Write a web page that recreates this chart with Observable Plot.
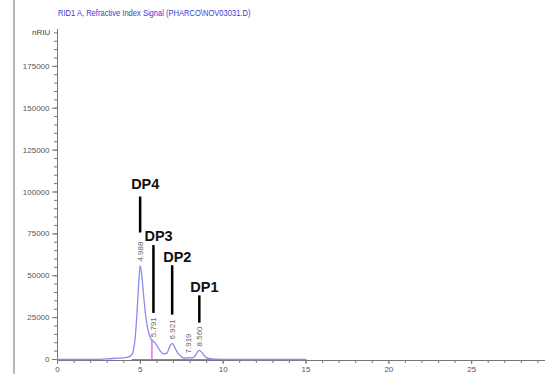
<!DOCTYPE html>
<html><head><meta charset="utf-8">
<script src="https://cdn.jsdelivr.net/npm/d3@7"></script>
<script src="https://cdn.jsdelivr.net/npm/@observablehq/plot@0.6"></script>
<style>
html,body{margin:0;padding:0;background:#fff;overflow:hidden;width:545px;height:374px;}
#wrap{position:relative;width:545px;height:374px;overflow:hidden;}
#title{position:absolute;left:58px;top:8px;font:9px "Liberation Sans",Arial,sans-serif;color:#3a3ad8;white-space:nowrap;transform:scaleX(0.84);transform-origin:left top;}
#unit{position:absolute;left:32px;top:28px;font:8px "Liberation Sans",Arial,sans-serif;color:#444;}
#border{position:absolute;left:13px;top:0;width:2px;height:374px;background:#b8b8b8;}
#chart{position:absolute;left:0;top:0;width:560px;}
#chart svg{max-width:none !important;}
</style></head>
<body><div id="wrap"><div id="border"></div><div id="chart"></div>
<div id="title">RID1 A, Refractive Index Signal (PHARCO\NOV03031.D)</div>
<div id="unit">nRIU</div></div>
<script>
// Chromatogram trace (time in min, signal in nRIU)
const times = [0, 1, 2, 3, 3.5, 4.0, 4.3, 4.5, 4.6, 4.7, 4.8, 4.9, 4.988, 5.1, 5.2, 5.3, 5.4, 5.5, 5.6, 5.7, 5.8, 5.9, 6.0, 6.2, 6.4, 6.6, 6.7, 6.8, 6.921, 7.0, 7.1, 7.2, 7.4, 7.6, 7.8, 7.919, 8.05, 8.2, 8.35, 8.45, 8.56, 8.7, 8.85, 9.0, 9.2, 9.5, 10, 11, 12, 13, 14, 15];
const signal = [0, 0, 100, 400, 700, 1000, 1500, 3000, 6500, 14000, 28000, 45000, 56000, 49000, 38000, 28000, 21000, 16000, 13000, 11500, 10800, 9800, 8300, 5200, 3300, 3800, 5800, 8300, 9600, 8800, 6800, 4800, 2300, 900, 800, 1200, 900, 1300, 2800, 4500, 5400, 4400, 2400, 1100, 450, 150, 40, 0, 0, 0, 0, 0];

// Retention time labels
const rtTimes = [4.988, 5.791, 6.921, 7.919, 8.560];
const rtHeights = [56000, 10900, 9600, 1200, 5400];
const rtLabels = ["4.988", "5.791", "6.921", "7.919", "8.560"];

// DP annotations
const dpNames = ["DP4", "DP3", "DP2", "DP1"];
const dpTimes = [4.988, 5.791, 6.921, 8.560];
const dpLineTop = [97000, 68000, 56000, 38000];
const dpLineBottom = [75500, 27500, 26500, 21700];
const dpLabelY = [102000, 70500, 58500, 40500];

// Integration baseline
const baseStart = 4.5, baseEnd = 10.5;
const dropTime = 5.70, dropHeight = 11500;

const xMajor = [0, 5, 10, 15, 20, 25, 30];
const xMinor = d3.range(0, 31, 1);
const yMajor = [0, 25000, 50000, 75000, 100000, 125000, 150000, 175000];
const yMinor = d3.range(0, 200000, 5000);

const trace = times.map((t, i) => ({t, v: signal[i]}));
const rts = rtTimes.map((t, i) => ({t, v: rtHeights[i], label: rtLabels[i]}));
const dps = dpNames.map((n, i) => ({n, t: dpTimes[i], top: dpLineTop[i], bot: dpLineBottom[i], ly: dpLabelY[i]}));

const axisColor = "#777";
const font = "Liberation Sans, Arial, sans-serif";

const chart = Plot.plot({
  width: 560, height: 374,
  marginLeft: 57, marginRight: 6, marginTop: 29, marginBottom: 15,
  style: {fontFamily: font, background: "transparent", maxWidth: "none"},
  x: {domain: [0, 30], label: null},
  y: {domain: [0, 197000], label: null},
  marks: [
    Plot.ruleY([0], {x1: 0, x2: 30, stroke: axisColor, strokeWidth: 1, dy: 1}),
    Plot.ruleX([0], {y1: 0, y2: 197000, stroke: axisColor, strokeWidth: 1}),
    Plot.axisX({ticks: xMinor, tickSize: 3, tickFormat: null, text: null, stroke: axisColor, dy: 1, label: null}),
    Plot.axisX({ticks: xMajor, tickSize: 4, tickFormat: d => String(d), fontSize: 8, fill: "#555", stroke: axisColor, tickPadding: 2, dy: 1, label: null}),
    Plot.axisY({ticks: yMinor, tickSize: 3, text: null, stroke: axisColor, label: null}),
    Plot.axisY({ticks: yMajor, tickSize: 5, tickFormat: d => String(d), fontSize: 8, fill: "#555", stroke: axisColor, tickPadding: 3, label: null}),
    Plot.ruleY([0], {x1: baseStart, x2: baseEnd, stroke: "#ee44ee", strokeWidth: 1.2}),
    Plot.ruleX([dropTime], {y1: 0, y2: dropHeight, stroke: "#ee44ee", strokeWidth: 1.2}),
    Plot.line(trace, {x: "t", y: "v", stroke: "#8a8af0", strokeWidth: 1.3, curve: "monotone-x"}),
    Plot.text(rts, {x: "t", y: "v", text: "label", rotate: -90, textAnchor: "start", lineAnchor: "middle", dy: -4, fontSize: 8, fill: "#666"}),
    Plot.ruleX(dps, {x: "t", y1: "bot", y2: "top", stroke: "#000", strokeWidth: 2.5}),
    Plot.text(dps, {x: "t", y: "ly", text: "n", textAnchor: "start", lineAnchor: "bottom", dx: -9, fontSize: 14.5, fontWeight: "bold", fill: "#111"})
  ]
});
document.getElementById("chart").appendChild(chart);
</script></body></html>
